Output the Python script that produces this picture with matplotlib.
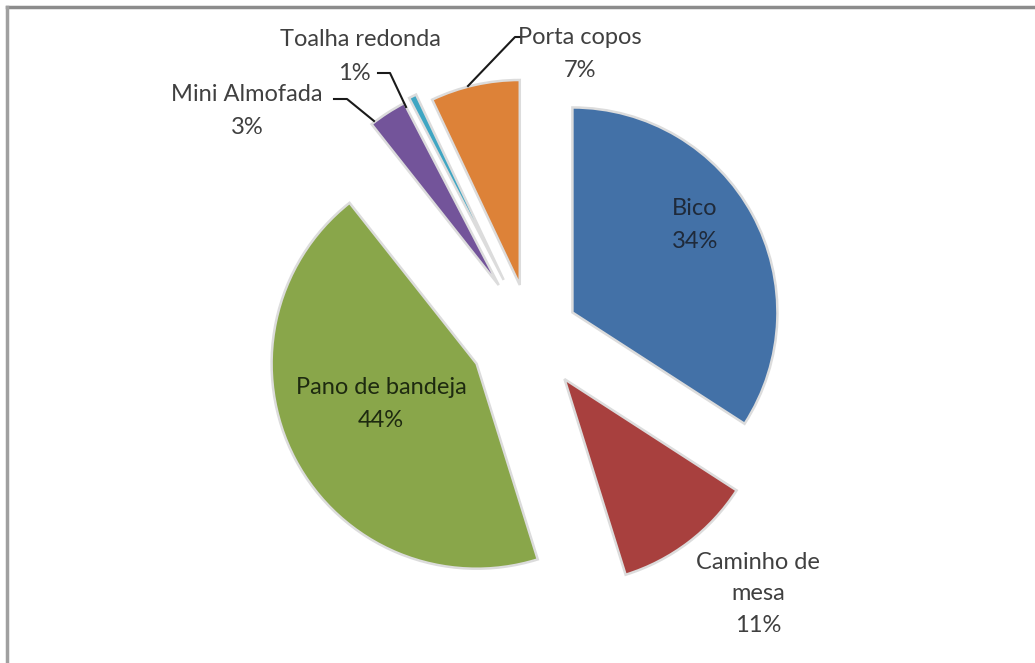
import matplotlib
matplotlib.use("Agg")
import matplotlib.pyplot as plt
from matplotlib.lines import Line2D

categories = ["Bico", "Caminho de mesa", "Pano de bandeja", "Mini Almofada", "Toalha redonda", "Porta copos"]
values = [34, 11, 44, 3, 0.6, 7]
label_texts = ["Bico", "Caminho de\nmesa", "Pano de bandeja", "Mini Almofada", "Toalha redonda", "Porta copos"]
colors = ["#4371a7", "#a8403e", "#89a64a", "#73549a", "#3fa6c3", "#dd8238"]
explode = [0.23, 0.27, 0.30, 0.29, 0.30, 0.25]

plt.rcParams['font.family'] = ['Lato', 'DejaVu Sans']

W, H = 1035, 663
fig = plt.figure(figsize=(W / 100, H / 100), dpi=100)
ax = fig.add_axes([0, 0, 1, 1])

R = 205
cx, cy = 531, H - 335
wedges, _ = ax.pie(values, colors=colors, startangle=90, counterclock=False,
                   explode=[e * R for e in explode], radius=R, center=(cx, cy),
                   wedgeprops=dict(edgecolor="#dcdcdc", linewidth=1.8))
ax.set_xlim(0, W)
ax.set_ylim(0, H)
ax.set_aspect("equal")
ax.axis("off")

total = sum(values)
pct = [f"{round(v / total * 100):d}%" for v in values]

txtc = "#404040"
fs = 17
ls = 1.65

def Y(y):
    return H - y

# Inside labels
ax.text(695, Y(225), f"{label_texts[0]}\n{pct[0]}", ha="center", va="center",
        fontsize=fs, color="#1f2a3a", linespacing=1.75)
ax.text(381, Y(404), f"{label_texts[2]}\n{pct[2]}", ha="center", va="center",
        fontsize=fs, color="#1e2a10", linespacing=ls)
# Outside labels
ax.text(758, Y(594), f"{label_texts[1]}\n{pct[1]}", ha="center", va="center",
        fontsize=fs, color=txtc, linespacing=1.6)
ax.text(580, Y(54), f"{label_texts[5]}\n{pct[5]}", ha="center", va="center",
        fontsize=fs, color=txtc, linespacing=ls)
ax.text(360, Y(40), label_texts[4], ha="center", va="center", fontsize=fs, color=txtc)
ax.text(354, Y(73), pct[4], ha="center", va="center", fontsize=fs, color=txtc)
ax.text(247, Y(111), f"{label_texts[3]}\n{pct[3]}", ha="center", va="center",
        fontsize=fs, color=txtc, linespacing=ls)

# leader lines
lc = "#1a1a1a"
ax.add_line(Line2D([521, 515, 468], [Y(37), Y(37), Y(86)], color=lc, lw=1.5))
ax.add_line(Line2D([378, 390, 406], [Y(73), Y(73), Y(107)], color=lc, lw=1.5))
ax.add_line(Line2D([334, 347, 374], [Y(99), Y(99), Y(121)], color=lc, lw=1.5))

# frame lines (top and left)
fig.add_artist(Line2D([7 / W, 1], [1 - 7 / H, 1 - 7 / H], transform=fig.transFigure,
                      color="#8c8c8c", lw=2.5))
fig.add_artist(Line2D([7 / W, 7 / W], [0, 1 - 7 / H], transform=fig.transFigure,
                      color="#a0a0a0", lw=2.5))

fig.savefig("out.png", dpi=100, facecolor="white")
